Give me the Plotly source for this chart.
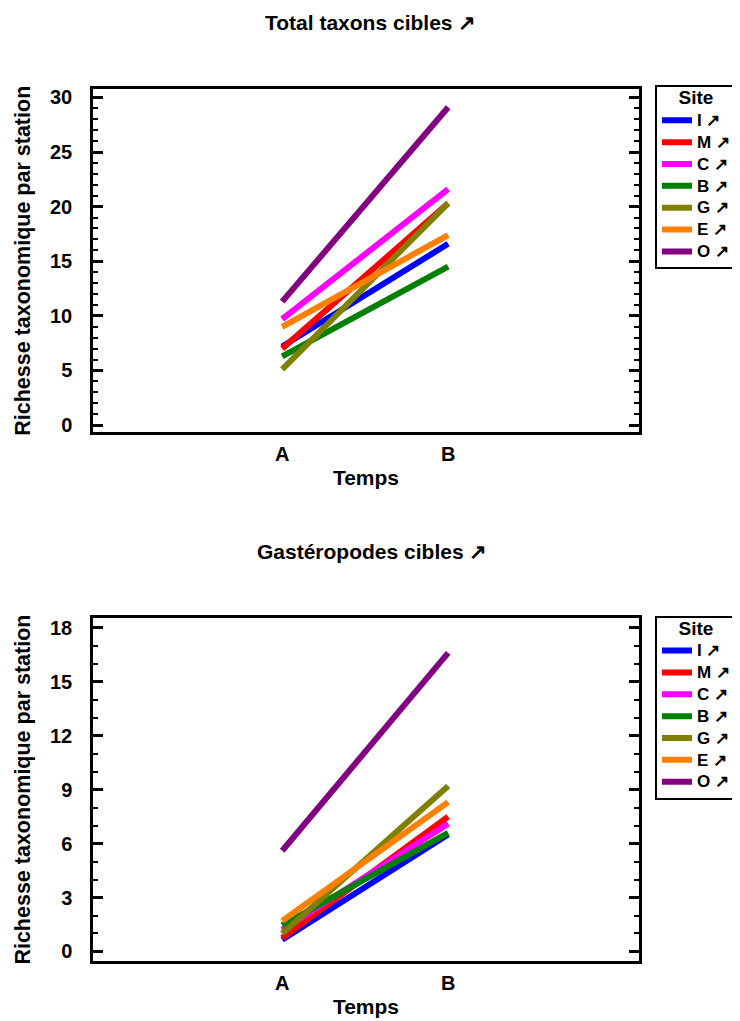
import plotly.graph_objects as go

sites = ["I", "M", "C", "B", "G", "E", "O"]
colors = ["#0000FF", "#FF0000", "#FF00FF", "#008000", "#808000", "#FF8000", "#800080"]
temps = ["A", "B"]
temps_x = [1, 2]

total_A = [7.2, 7.0, 9.7, 6.3, 5.1, 9.0, 11.3]
total_B = [16.6, 20.3, 21.6, 14.5, 20.3, 17.4, 29.1]

gast_A = [0.65, 0.75, 1.2, 1.45, 1.0, 1.7, 5.6]
gast_B = [6.5, 7.5, 7.1, 6.6, 9.2, 8.3, 16.6]

FONT = "Liberation Sans, Arial, sans-serif"
OFF = 8  # default page body margin
W, H = 740 - OFF, 1021 - OFF


def px_x(px):
    return (px - OFF) / W


def px_y(py):
    return 1 - (py - OFF) / H


def bfont(size):
    return dict(family=FONT, size=size, color="black", weight="bold")


def big(txt, size):
    return f'<span style="font-size:{size}px">{txt}</span>'


fig = go.Figure()
for i, s in enumerate(sites):
    fig.add_trace(go.Scatter(x=temps_x, y=[total_A[i], total_B[i]], mode="lines",
                             line=dict(color=colors[i], width=6), name=big(f"{s} ↗", 17),
                             xaxis="x", yaxis="y", legend="legend"))
for i, s in enumerate(sites):
    fig.add_trace(go.Scatter(x=temps_x, y=[gast_A[i], gast_B[i]], mode="lines",
                             line=dict(color=colors[i], width=6), name=big(f"{s} ↗", 17),
                             xaxis="x2", yaxis="y2", legend="legend2"))

xd = [px_x(93), px_x(639)]
xr = [-0.14, 3.15]
common_x = dict(domain=xd, range=xr, tickvals=temps_x, ticktext=temps,
                showline=True, linewidth=2.5, linecolor="black", mirror=True, ticks="",
                showgrid=False, zeroline=False, tickfont=bfont(20), ticklabelstandoff=2,
                title=dict(text="Temps", font=bfont(21), standoff=7))
common_y = dict(showline=True, linewidth=2.5, linecolor="black", mirror="ticks", ticks="inside",
                ticklen=10, tickwidth=2.5, tickcolor="black", showgrid=False, zeroline=False,
                tickfont=bfont(20), ticklabelstandoff=14,
                title=dict(text="Richesse taxonomique par station", font=bfont(21.5), standoff=14))
minor = dict(dtick=1, tick0=0, ticks="inside", ticklen=5, tickwidth=2, tickcolor="black")


def legend_at(py_top):
    return dict(title=dict(text=big("Site", 19), side="top center", font=bfont(13)),
                x=px_x(655), y=px_y(py_top), xanchor="left", yanchor="top",
                bordercolor="black", borderwidth=2, bgcolor="white",
                font=bfont(14.5), tracegroupgap=0, itemwidth=30)


fig.update_layout(
    width=W, height=H, margin=dict(l=0, r=0, t=0, b=0),
    paper_bgcolor="white", plot_bgcolor="white",
    font=dict(family=FONT, color="black"),
    xaxis=dict(anchor="y", **common_x),
    yaxis=dict(domain=[px_y(432), px_y(87)], range=[-0.64, 30.73], tickvals=[0, 5, 10, 15, 20, 25, 30],
               minor=minor, anchor="x", **common_y),
    xaxis2=dict(anchor="y2", **common_x),
    yaxis2=dict(domain=[px_y(965), px_y(619)], range=[-0.55, 18.55], tickvals=[0, 3, 6, 9, 12, 15, 18],
                minor=minor, anchor="x2", **common_y),
    legend=legend_at(83),
    legend2=legend_at(617),
    annotations=[
        dict(text="Total taxons cibles ↗", x=px_x(370), y=px_y(20), xref="paper", yref="paper",
             xanchor="center", yanchor="middle", showarrow=False, font=bfont(21)),
        dict(text="Gastéropodes cibles ↗", x=px_x(372), y=px_y(552), xref="paper", yref="paper",
             xanchor="center", yanchor="middle", showarrow=False, font=bfont(21)),
    ],
)

fig.write_html("out.html")
